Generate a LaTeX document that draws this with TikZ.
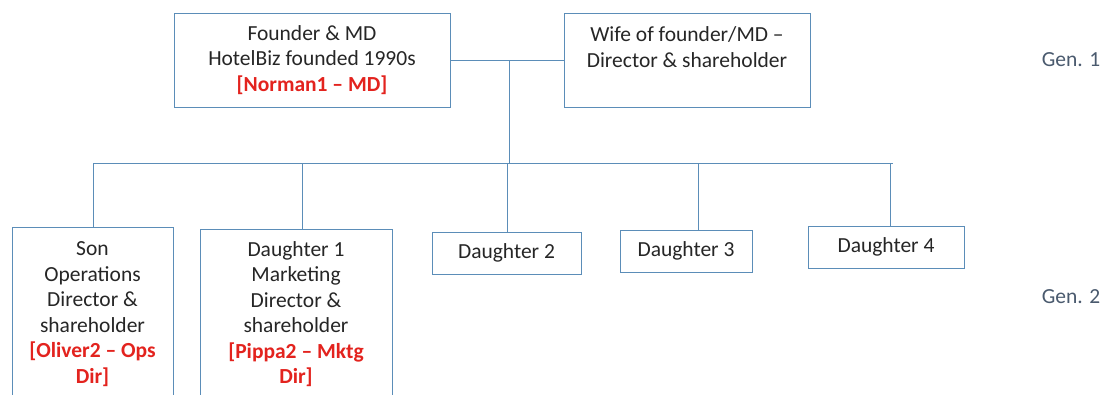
\documentclass[tikz,border=0pt]{standalone}
\usepackage{fontspec}
\setmainfont{Carlito}
\begin{document}
\begin{tikzpicture}[x=1pt,y=-1pt,
  font=\fontsize{21.5}{25.5}\selectfont,
  box/.style={draw=linkblue, line width=1pt, fill=white, text=txtgray, align=center, inner sep=0pt},
  link/.style={draw=linkblue, line width=1pt},
  tag/.style={text=tagred, font=\fontsize{21.5}{25.5}\selectfont\bfseries},
  genlabel/.style={text=gengray, anchor=center}]
\definecolor{linkblue}{HTML}{5B8DB8}
\definecolor{txtgray}{HTML}{262626}
\definecolor{tagred}{HTML}{E3231E}
\definecolor{gengray}{HTML}{4A5A6E}
\clip (0,0) rectangle (1107,394);
\fill[white] (0,0) rectangle (1107,394);

% generation 1
\node[box, minimum width=276, minimum height=94] (founder) at (312,60)
  {Founder \& MD\\HotelBiz founded 1990s\\{\color{tagred}\bfseries [Norman1 – MD]}};
\node[box, minimum width=246, minimum height=94] (wife) at (687,60)
  {Wife of founder/MD –\\Director \& shareholder\\\mbox{}};

% generation 2
\node[box, minimum width=161, minimum height=174] (son) at (92.5,314)
  {Son\\Operations\\Director \&\\shareholder\\{\color{tagred}\bfseries [Oliver2 – Ops}\\{\color{tagred}\bfseries Dir]}};
\node[box, minimum width=192, minimum height=170] (d1) at (296,314)
  {Daughter 1\\Marketing\\Director \&\\shareholder\\{\color{tagred}\bfseries [Pippa2 – Mktg}\\{\color{tagred}\bfseries Dir]}};
\node[box, minimum width=149, minimum height=42] (d2) at (506.5,253) {Daughter 2};
\node[box, minimum width=132, minimum height=42] (d3) at (686,251) {Daughter 3};
\node[box, minimum width=156, minimum height=42] (d4) at (886,247) {Daughter 4};

% generation labels
\node[genlabel] (gen1) at (1071,60) {Gen. 1};
\node[genlabel] (gen2) at (1071,297) {Gen. 2};

% marriage line and descent to the children's bus
\coordinate (mid) at (509,60);
\coordinate (bus) at (509,163);
\coordinate (bleft) at (93,163);
\coordinate (bright) at (893,163);
\coordinate (c1) at (93,163);
\coordinate (c2) at (302,163);
\coordinate (c3) at (507,163);
\coordinate (c4) at (698,163);
\coordinate (c5) at (890,163);

\draw[link] (founder.east) -- (wife.west);
\draw[link] (mid) -- (bus);
\draw[link] (bleft) -- (bright);
\draw[link] (c1) -- (c1 |- son.north);
\draw[link] (c2) -- (c2 |- d1.north);
\draw[link] (c3) -- (c3 |- d2.north);
\draw[link] (c4) -- (c4 |- d3.north);
\draw[link] (c5) -- (c5 |- d4.north);
\end{tikzpicture}
\end{document}
